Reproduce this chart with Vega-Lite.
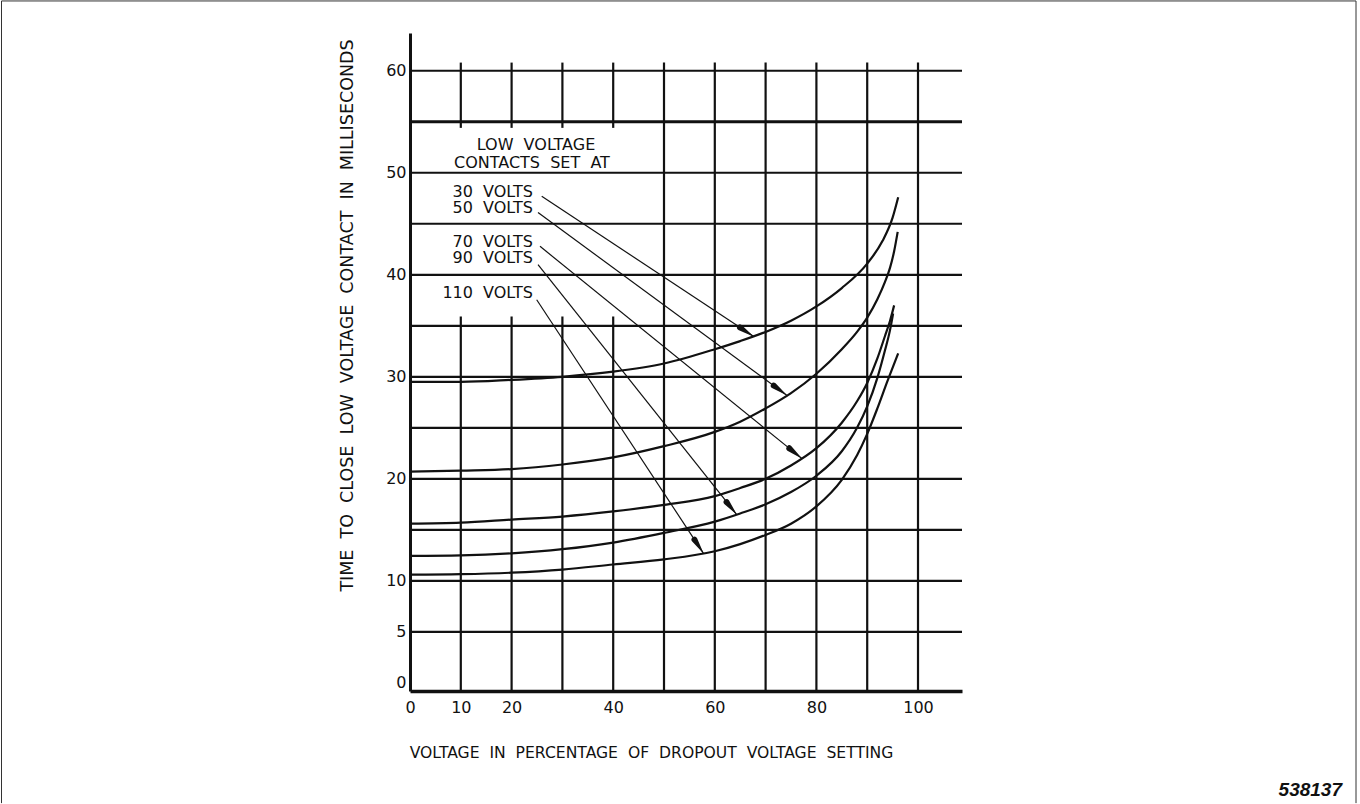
{
  "$schema": "https://vega.github.io/schema/vega-lite/v6.json",
  "width": 552,
  "height": 658,
  "autosize": {"type": "none"},
  "padding": {"left": 410, "top": 33, "right": 398, "bottom": 113},
  "background": "white",
  "config": {"view": {"stroke": null}, "font": "DejaVu Sans"},
  "datasets": {
    "hgrid": [
      {"y": 5, "x": 0, "x2": 108.66}, {"y": 10, "x": 0, "x2": 108.66}, {"y": 15, "x": 0, "x2": 108.66},
      {"y": 20, "x": 0, "x2": 108.66}, {"y": 25, "x": 0, "x2": 108.66}, {"y": 30, "x": 0, "x2": 108.66},
      {"y": 35, "x": 0, "x2": 108.66}, {"y": 40, "x": 0, "x2": 108.66}, {"y": 45, "x": 0, "x2": 108.66},
      {"y": 50, "x": 0, "x2": 108.66}, {"y": 55, "x": 0, "x2": 108.66}, {"y": 60, "x": 0, "x2": 108.66}
    ],
    "vgrid": [
      {"x": 10, "y": 54.4, "y2": 60.8}, {"x": 10, "y": -0.8, "y2": 35.9},
      {"x": 20, "y": 54.4, "y2": 60.8}, {"x": 20, "y": -0.8, "y2": 35.9},
      {"x": 30, "y": 54.4, "y2": 60.8}, {"x": 30, "y": -0.8, "y2": 35.9},
      {"x": 40, "y": 54.4, "y2": 60.8}, {"x": 40, "y": -0.8, "y2": 35.9},
      {"x": 50, "y": -0.8, "y2": 60.8}, {"x": 60, "y": -0.8, "y2": 60.8},
      {"x": 70, "y": -0.8, "y2": 60.8}, {"x": 80, "y": -0.8, "y2": 60.8},
      {"x": 90, "y": -0.8, "y2": 60.8}, {"x": 100, "y": -0.8, "y2": 60.8}
    ],
    "curves": [
      {"series": "30 VOLTS", "x": 0, "y": 29.5}, {"series": "30 VOLTS", "x": 10, "y": 29.5},
      {"series": "30 VOLTS", "x": 20, "y": 29.7}, {"series": "30 VOLTS", "x": 30, "y": 30.0},
      {"series": "30 VOLTS", "x": 40, "y": 30.5}, {"series": "30 VOLTS", "x": 50, "y": 31.3},
      {"series": "30 VOLTS", "x": 60, "y": 32.7}, {"series": "30 VOLTS", "x": 65, "y": 33.5},
      {"series": "30 VOLTS", "x": 70, "y": 34.4}, {"series": "30 VOLTS", "x": 75, "y": 35.5},
      {"series": "30 VOLTS", "x": 80, "y": 36.9}, {"series": "30 VOLTS", "x": 85, "y": 38.7},
      {"series": "30 VOLTS", "x": 90, "y": 41.1}, {"series": "30 VOLTS", "x": 93, "y": 43.3},
      {"series": "30 VOLTS", "x": 95, "y": 45.6}, {"series": "30 VOLTS", "x": 96.1, "y": 47.6},

      {"series": "50 VOLTS", "x": 0, "y": 20.7}, {"series": "50 VOLTS", "x": 10, "y": 20.8},
      {"series": "50 VOLTS", "x": 20, "y": 20.95}, {"series": "50 VOLTS", "x": 30, "y": 21.4},
      {"series": "50 VOLTS", "x": 40, "y": 22.1}, {"series": "50 VOLTS", "x": 50, "y": 23.2},
      {"series": "50 VOLTS", "x": 60, "y": 24.6}, {"series": "50 VOLTS", "x": 65, "y": 25.6},
      {"series": "50 VOLTS", "x": 70, "y": 26.9}, {"series": "50 VOLTS", "x": 75, "y": 28.4},
      {"series": "50 VOLTS", "x": 80, "y": 30.3}, {"series": "50 VOLTS", "x": 85, "y": 32.7},
      {"series": "50 VOLTS", "x": 88, "y": 34.4}, {"series": "50 VOLTS", "x": 90, "y": 35.8},
      {"series": "50 VOLTS", "x": 92, "y": 37.6}, {"series": "50 VOLTS", "x": 93.5, "y": 39.3},
      {"series": "50 VOLTS", "x": 94.5, "y": 40.7}, {"series": "50 VOLTS", "x": 95.3, "y": 42.3},
      {"series": "50 VOLTS", "x": 96.0, "y": 44.2},

      {"series": "70 VOLTS", "x": 0, "y": 15.6}, {"series": "70 VOLTS", "x": 10, "y": 15.7},
      {"series": "70 VOLTS", "x": 20, "y": 16.0}, {"series": "70 VOLTS", "x": 30, "y": 16.3},
      {"series": "70 VOLTS", "x": 40, "y": 16.8}, {"series": "70 VOLTS", "x": 50, "y": 17.45},
      {"series": "70 VOLTS", "x": 60, "y": 18.3}, {"series": "70 VOLTS", "x": 65, "y": 19.1},
      {"series": "70 VOLTS", "x": 70, "y": 20.0}, {"series": "70 VOLTS", "x": 75, "y": 21.3},
      {"series": "70 VOLTS", "x": 80, "y": 23.0}, {"series": "70 VOLTS", "x": 85, "y": 25.5},
      {"series": "70 VOLTS", "x": 88, "y": 27.6}, {"series": "70 VOLTS", "x": 90, "y": 29.4},
      {"series": "70 VOLTS", "x": 92, "y": 31.8}, {"series": "70 VOLTS", "x": 93.5, "y": 34.0},
      {"series": "70 VOLTS", "x": 94.5, "y": 35.5}, {"series": "70 VOLTS", "x": 95.3, "y": 37.0},

      {"series": "90 VOLTS", "x": 0, "y": 12.45}, {"series": "90 VOLTS", "x": 10, "y": 12.5},
      {"series": "90 VOLTS", "x": 20, "y": 12.7}, {"series": "90 VOLTS", "x": 30, "y": 13.1},
      {"series": "90 VOLTS", "x": 40, "y": 13.75}, {"series": "90 VOLTS", "x": 50, "y": 14.7},
      {"series": "90 VOLTS", "x": 60, "y": 15.8}, {"series": "90 VOLTS", "x": 65, "y": 16.6},
      {"series": "90 VOLTS", "x": 70, "y": 17.5}, {"series": "90 VOLTS", "x": 75, "y": 18.7},
      {"series": "90 VOLTS", "x": 80, "y": 20.3}, {"series": "90 VOLTS", "x": 85, "y": 22.7},
      {"series": "90 VOLTS", "x": 88, "y": 25.0}, {"series": "90 VOLTS", "x": 90, "y": 27.1},
      {"series": "90 VOLTS", "x": 92, "y": 29.9}, {"series": "90 VOLTS", "x": 93.5, "y": 32.6},
      {"series": "90 VOLTS", "x": 94.5, "y": 34.6}, {"series": "90 VOLTS", "x": 95.1, "y": 36.2},

      {"series": "110 VOLTS", "x": 0, "y": 10.6}, {"series": "110 VOLTS", "x": 10, "y": 10.65},
      {"series": "110 VOLTS", "x": 20, "y": 10.8}, {"series": "110 VOLTS", "x": 30, "y": 11.1},
      {"series": "110 VOLTS", "x": 40, "y": 11.6}, {"series": "110 VOLTS", "x": 50, "y": 12.1},
      {"series": "110 VOLTS", "x": 60, "y": 12.9}, {"series": "110 VOLTS", "x": 65, "y": 13.6},
      {"series": "110 VOLTS", "x": 70, "y": 14.5}, {"series": "110 VOLTS", "x": 75, "y": 15.6},
      {"series": "110 VOLTS", "x": 80, "y": 17.3}, {"series": "110 VOLTS", "x": 85, "y": 19.9},
      {"series": "110 VOLTS", "x": 88, "y": 22.3}, {"series": "110 VOLTS", "x": 90, "y": 24.4},
      {"series": "110 VOLTS", "x": 92, "y": 26.9}, {"series": "110 VOLTS", "x": 94, "y": 29.6},
      {"series": "110 VOLTS", "x": 96.1, "y": 32.3}
    ],
    "leaders": [
      {"series": "30 VOLTS", "x": 25.93, "y": 47.7, "x2": 67.6, "y2": 33.97},
      {"series": "50 VOLTS", "x": 25.2, "y": 46.1, "x2": 74.15, "y2": 28.2},
      {"series": "70 VOLTS", "x": 25.59, "y": 42.79, "x2": 77.11, "y2": 22.0},
      {"series": "90 VOLTS", "x": 25.2, "y": 40.99, "x2": 64.31, "y2": 16.5},
      {"series": "110 VOLTS", "x": 24.94, "y": 37.55, "x2": 57.74, "y2": 12.72}
    ],
    "arrowheads": [
      {"series": "30 VOLTS", "part": "base", "x": 64.96, "y": 34.83},
      {"series": "30 VOLTS", "part": "tip", "x": 67.6, "y": 33.97},
      {"series": "50 VOLTS", "part": "base", "x": 71.61, "y": 29.13},
      {"series": "50 VOLTS", "part": "tip", "x": 74.15, "y": 28.2},
      {"series": "70 VOLTS", "part": "base", "x": 74.67, "y": 22.99},
      {"series": "70 VOLTS", "part": "tip", "x": 77.11, "y": 22.0},
      {"series": "90 VOLTS", "part": "base", "x": 62.32, "y": 17.72},
      {"series": "90 VOLTS", "part": "tip", "x": 64.31, "y": 16.5},
      {"series": "110 VOLTS", "part": "base", "x": 56.0, "y": 14.03},
      {"series": "110 VOLTS", "part": "tip", "x": 57.74, "y": 12.72}
    ],
    "header": [
      {"label": "LOW\u00a0 VOLTAGE", "x": 24.8, "y": 52.72},
      {"label": "CONTACTS\u00a0 SET\u00a0 AT", "x": 24.0, "y": 50.98}
    ],
    "labels": [
      {"label": "30\u00a0 VOLTS", "x": 24.21, "y": 48.14},
      {"label": "50\u00a0 VOLTS", "x": 24.21, "y": 46.51},
      {"label": "70\u00a0 VOLTS", "x": 24.21, "y": 43.24},
      {"label": "90\u00a0 VOLTS", "x": 24.21, "y": 41.61},
      {"label": "110\u00a0 VOLTS", "x": 24.21, "y": 38.18}
    ],
    "code": [
      {"label": "538137", "x": 183.46, "y": -10.5}
    ],
    "frame": [
      {"x": -80.41, "y": -11.79, "x2": -80.41, "y2": 66.84},
      {"x": -80.41, "y": 66.84, "x2": 186.22, "y2": 66.84},
      {"x": 186.22, "y": 66.84, "x2": 186.22, "y2": -11.79}
    ]
  },
  "encoding": {
    "x": {
      "field": "x",
      "type": "quantitative",
      "scale": {"domain": [0, 108.66], "nice": false, "zero": false},
      "axis": {
        "values": [0, 10, 20, 40, 60, 80, 100],
        "grid": false,
        "ticks": false,
        "tickSize": 0,
        "labelPadding": 8,
        "labelFont": "DejaVu Sans",
        "labelFontSize": 16,
        "labelColor": "#111",
        "labelFlush": false,
        "labelOverlap": false,
        "domainColor": "#111",
        "domainWidth": 3.5,
        "title": "VOLTAGE\u00a0 IN\u00a0 PERCENTAGE\u00a0 OF\u00a0 DROPOUT\u00a0 VOLTAGE\u00a0 SETTING",
        "titleFont": "DejaVu Sans",
        "titleFontSize": 15.6,
        "titleFontWeight": "normal",
        "titleColor": "#111",
        "titleX": 241,
        "titleY": 61,
        "titleAlign": "center",
        "titleBaseline": "middle"
      }
    },
    "y": {
      "field": "y",
      "type": "quantitative",
      "scale": {"domain": [-0.8, 63.7], "nice": false, "zero": false},
      "axis": {
        "values": [0, 5, 10, 15, 20, 25, 30, 35, 40, 45, 50, 55, 60],
        "labelExpr": "datum.value % 10 === 0 || datum.value === 5 ? datum.label : ''",
        "grid": false,
        "ticks": false,
        "tickSize": 0,
        "labelPadding": 4,
        "labelFont": "DejaVu Sans",
        "labelFontSize": 16,
        "labelColor": "#111",
        "labelFlush": false,
        "labelOverlap": false,
        "domainColor": "#111",
        "domainWidth": 3,
        "title": "TIME\u00a0 TO\u00a0 CLOSE\u00a0 LOW\u00a0 VOLTAGE\u00a0 CONTACT\u00a0 IN\u00a0 MILLISECONDS",
        "titleFont": "DejaVu Sans",
        "titleFontSize": 17.5,
        "titleFontWeight": "normal",
        "titleColor": "#111",
        "titleAngle": -90,
        "titleX": -63,
        "titleY": 282,
        "titleAlign": "center",
        "titleBaseline": "middle"
      }
    }
  },
  "layer": [
    {
      "data": {"name": "hgrid"},
      "mark": {"type": "rule", "color": "#111"},
      "encoding": {
        "x2": {"field": "x2"},
        "strokeWidth": {"condition": {"test": "datum.y === 55", "value": 3}, "value": 2.2}
      }
    },
    {
      "data": {"name": "vgrid"},
      "mark": {"type": "rule", "color": "#111", "strokeWidth": 2.2},
      "encoding": {"y2": {"field": "y2"}}
    },
    {
      "data": {"name": "curves"},
      "mark": {"type": "line", "color": "#111", "strokeWidth": 2.2, "interpolate": "monotone"},
      "encoding": {"detail": {"field": "series", "type": "nominal"}}
    },
    {
      "data": {"name": "leaders"},
      "mark": {"type": "rule", "color": "#111", "strokeWidth": 1.2},
      "encoding": {"x2": {"field": "x2"}, "y2": {"field": "y2"}}
    },
    {
      "data": {"name": "arrowheads"},
      "mark": {"type": "trail", "color": "#111"},
      "encoding": {
        "detail": {"field": "series", "type": "nominal"},
        "size": {"field": "part", "type": "ordinal", "scale": {"domain": ["base", "tip"], "range": [6, 0.2]}, "legend": null}
      }
    },
    {
      "data": {"name": "header"},
      "mark": {"type": "text", "font": "DejaVu Sans", "fontSize": 16, "color": "#111", "align": "center", "baseline": "middle"},
      "encoding": {"text": {"field": "label"}}
    },
    {
      "data": {"name": "labels"},
      "mark": {"type": "text", "font": "DejaVu Sans", "fontSize": 16, "color": "#111", "align": "right", "baseline": "middle"},
      "encoding": {"text": {"field": "label"}}
    },
    {
      "data": {"name": "code"},
      "mark": {"type": "text", "font": "Liberation Sans", "fontSize": 19, "fontWeight": "bold", "fontStyle": "italic", "color": "#111", "align": "right", "baseline": "middle"},
      "encoding": {"text": {"field": "label"}}
    },
    {
      "data": {"name": "frame"},
      "mark": {"type": "rule", "color": "#333", "strokeWidth": 1},
      "encoding": {"x2": {"field": "x2"}, "y2": {"field": "y2"}}
    }
  ]
}
